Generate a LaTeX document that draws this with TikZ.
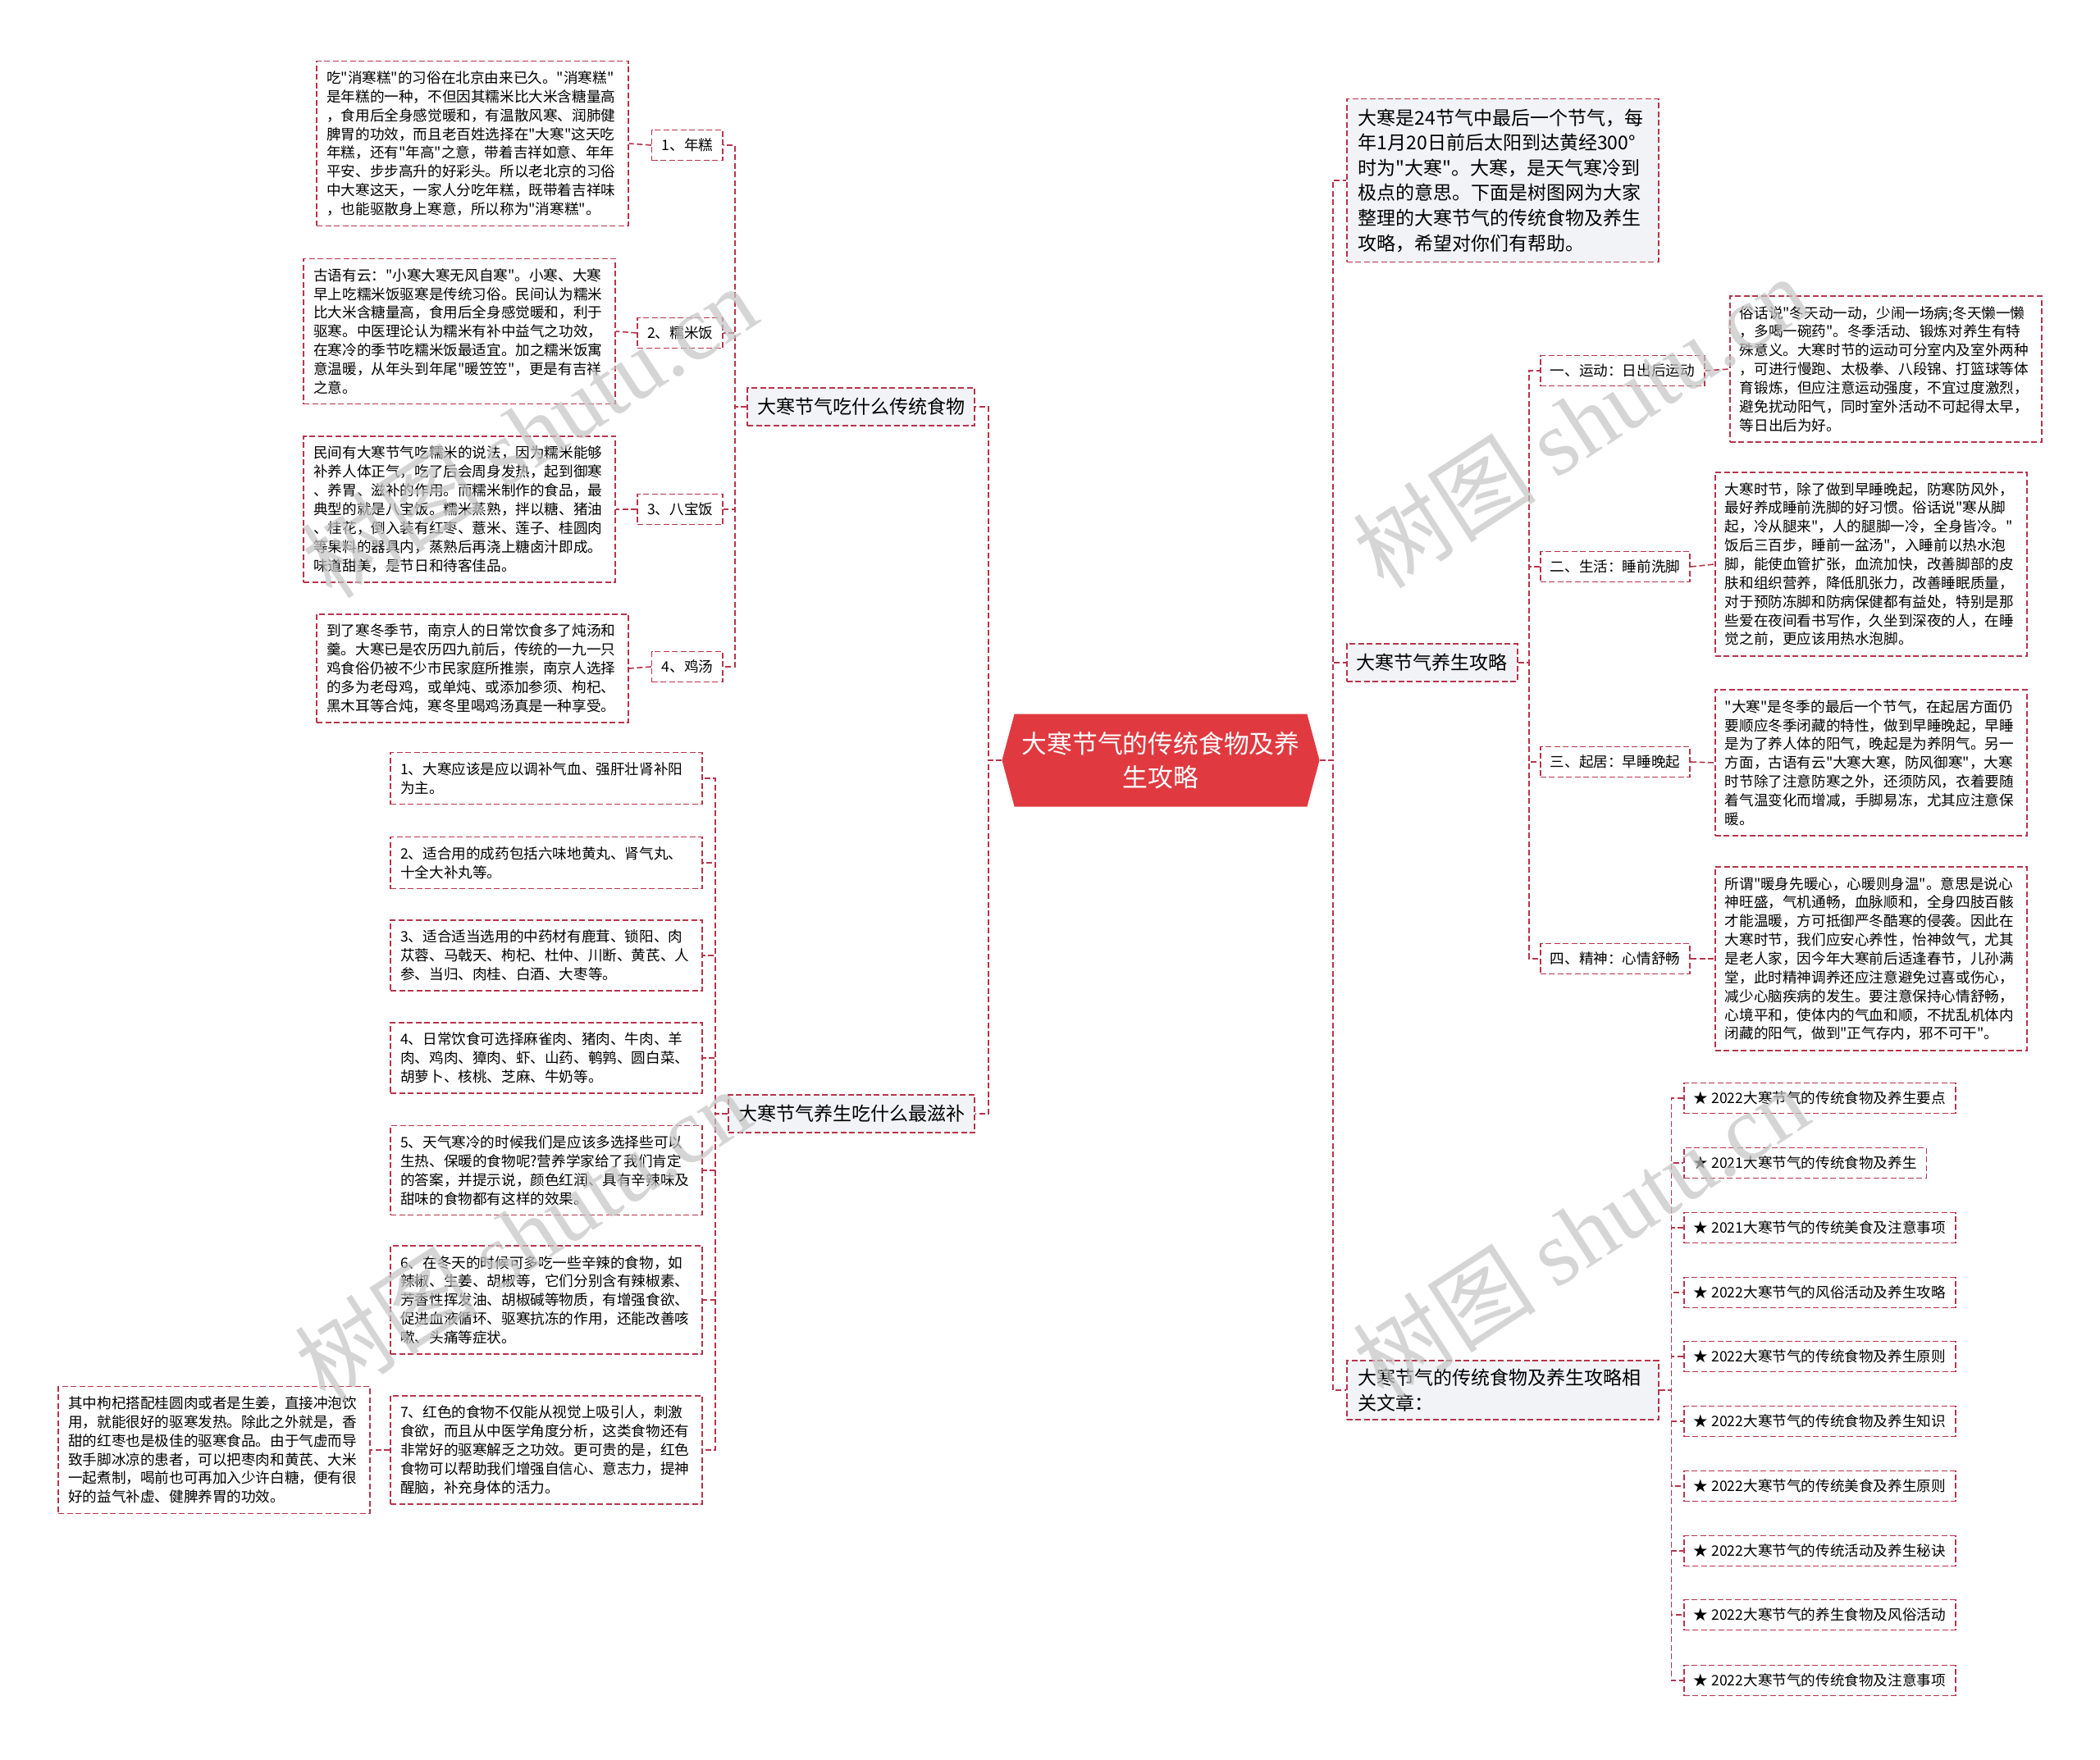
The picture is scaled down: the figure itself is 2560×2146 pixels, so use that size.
\documentclass[tikz,border=0pt]{standalone}
\usepackage{fontspec}
\setmainfont{Noto Sans CJK SC}[Ligatures=TeXOff]
\newfontfamily\wmfont{Liberation Serif}[Ligatures=TeXOff]
\usetikzlibrary{calc,shapes.symbols}
\definecolor{linkred}{HTML}{B8344B}
\definecolor{rootred}{HTML}{E03A40}
\definecolor{branchfill}{HTML}{F1F3F6}
\definecolor{wmgray}{HTML}{C4C4C4}
\newcommand\smalltxt{\fontsize{8.8pt}{11.43pt}\selectfont}
\newcommand\midtxt{\fontsize{11.5pt}{15.3pt}\selectfont}
\newcommand\bigtxt{\fontsize{15.4pt}{20.4pt}\selectfont}

\begin{document}
\begin{tikzpicture}[
  x=0.5pt, y=-0.5pt,
  linkline/.style={draw=linkred, line width=0.8pt, dash pattern=on 3.5pt off 1.75pt},
  rootnode/.style={shape=signal, signal to=east and west, signal pointer angle=150, fill=rootred, text=white, font=\bigtxt, align=center, minimum width=193.5pt, minimum height=56.5pt, inner sep=0pt},
  branchbox/.style={linkline, fill=branchfill, font=\midtxt, inner xsep=6pt, minimum height=23pt},
  tagbox/.style={linkline, fill=white, font=\smalltxt, inner xsep=6pt, minimum height=18.5pt},
  leafbox/.style={linkline, fill=white, font=\smalltxt, text width=178pt, align=left, inner xsep=6pt, inner ysep=6pt},
  wmark/.style={text=wmgray, opacity=0.7, font=\fontsize{56pt}{56pt}\selectfont, rotate=33}
]
\fill[white] (0,0) rectangle (2560,2146);
\useasboundingbox (0,0) rectangle (2560,2146);

% centre
\node[rootnode] (ctr) at (1415,927) {大寒节气的传统食物及养\\生攻略};

% left branches
\node[branchbox, anchor=east] (food) at (1189,496) {大寒节气吃什么传统食物};
\node[branchbox, anchor=east] (tonic) at (1189,1358) {大寒节气养生吃什么最滋补};

\node[tagbox, anchor=east] (nian) at (882,177) {1、年糕};
\node[tagbox, anchor=east] (nuomi) at (882,406) {2、糯米饭};
\node[tagbox, anchor=east] (babao) at (882,621) {3、八宝饭};
\node[tagbox, anchor=east] (jitang) at (882,813) {4、鸡汤};

\node[leafbox, anchor=east] (niantxt) at (767,175) {吃"消寒糕"的习俗在北京由来已久。"消寒糕"\\是年糕的一种，不但因其糯米比大米含糖量高\\，食用后全身感觉暖和，有温散风寒、润肺健\\脾胃的功效，而且老百姓选择在"大寒"这天吃\\年糕，还有"年高"之意，带着吉祥如意、年年\\平安、步步高升的好彩头。所以老北京的习俗\\中大寒这天，一家人分吃年糕，既带着吉祥味\\，也能驱散身上寒意，所以称为"消寒糕"。};
\node[leafbox, anchor=east] (nuomitxt) at (751,404) {古语有云："小寒大寒无风自寒"。小寒、大寒\\早上吃糯米饭驱寒是传统习俗。民间认为糯米\\比大米含糖量高，食用后全身感觉暖和，利于\\驱寒。中医理论认为糯米有补中益气之功效，\\在寒冷的季节吃糯米饭最适宜。加之糯米饭寓\\意温暖，从年头到年尾"暖笠笠"，更是有吉祥\\之意。};
\node[leafbox, anchor=east] (babaotxt) at (751,621) {民间有大寒节气吃糯米的说法，因为糯米能够\\补养人体正气，吃了后会周身发热，起到御寒\\、养胃、滋补的作用。而糯米制作的食品，最\\典型的就是八宝饭。糯米蒸熟，拌以糖、猪油\\、桂花，倒入装有红枣、薏米、莲子、桂圆肉\\等果料的器具内，蒸熟后再浇上糖卤汁即成。\\味道甜美，是节日和待客佳品。};
\node[leafbox, anchor=east] (jitangtxt) at (767,815) {到了寒冬季节，南京人的日常饮食多了炖汤和\\羹。大寒已是农历四九前后，传统的一九一只\\鸡食俗仍被不少市民家庭所推崇，南京人选择\\的多为老母鸡，或单炖、或添加参须、枸杞、\\黑木耳等合炖，寒冬里喝鸡汤真是一种享受。};

\node[leafbox, anchor=east] (tip1) at (857,949) {1、大寒应该是应以调补气血、强肝壮肾补阳\\为主。};
\node[leafbox, anchor=east] (tip2) at (857,1052) {2、适合用的成药包括六味地黄丸、肾气丸、\\十全大补丸等。};
\node[leafbox, anchor=east] (tip3) at (857,1165) {3、适合适当选用的中药材有鹿茸、锁阳、肉\\苁蓉、马戟天、枸杞、杜仲、川断、黄芪、人\\参、当归、肉桂、白酒、大枣等。};
\node[leafbox, anchor=east] (tip4) at (857,1290) {4、日常饮食可选择麻雀肉、猪肉、牛肉、羊\\肉、鸡肉、獐肉、虾、山药、鹌鹑、圆白菜、\\胡萝卜、核桃、芝麻、牛奶等。};
\node[leafbox, anchor=east] (tip5) at (857,1427) {5、天气寒冷的时候我们是应该多选择些可以\\生热、保暖的食物呢?营养学家给了我们肯定\\的答案，并提示说，颜色红润、具有辛辣味及\\甜味的食物都有这样的效果。};
\node[leafbox, anchor=east] (tip6) at (857,1585) {6、在冬天的时候可多吃一些辛辣的食物，如\\辣椒、生姜、胡椒等，它们分别含有辣椒素、\\芳香性挥发油、胡椒碱等物质，有增强食欲、\\促进血液循环、驱寒抗冻的作用，还能改善咳\\嗽、头痛等症状。};
\node[leafbox, anchor=east] (tip7) at (857,1768) {7、红色的食物不仅能从视觉上吸引人，刺激\\食欲，而且从中医学角度分析，这类食物还有\\非常好的驱寒解乏之功效。更可贵的是，红色\\食物可以帮助我们增强自信心、意志力，提神\\醒脑，补充身体的活力。};
\node[leafbox, anchor=east] (gouqi) at (452,1768) {其中枸杞搭配桂圆肉或者是生姜，直接冲泡饮\\用，就能很好的驱寒发热。除此之外就是，香\\甜的红枣也是极佳的驱寒食品。由于气虚而导\\致手脚冰凉的患者，可以把枣肉和黄芪、大米\\一起煮制，喝前也可再加入少许白糖，便有很\\好的益气补虚、健脾养胃的功效。};

% right branches
\node[branchbox, anchor=west, text width=176pt, align=left, inner xsep=7pt, inner ysep=6pt] (intro) at (1641,220) {大寒是24节气中最后一个节气，每\\年1月20日前后太阳到达黄经300°\\时为"大寒"。大寒，是天气寒冷到\\极点的意思。下面是树图网为大家\\整理的大寒节气的传统食物及养生\\攻略，希望对你们有帮助。};
\node[branchbox, anchor=west] (regimen) at (1641,808) {大寒节气养生攻略};
\node[branchbox, anchor=west, text width=176pt, align=left, inner xsep=7pt, inner ysep=5pt] (related) at (1641,1695) {大寒节气的传统食物及养生攻略相\\关文章：};

\node[tagbox, anchor=west] (yd) at (1877,452) {一、运动：日出后运动};
\node[tagbox, anchor=west] (sh) at (1877,691) {二、生活：睡前洗脚};
\node[tagbox, anchor=west] (qj) at (1877,929) {三、起居：早睡晚起};
\node[tagbox, anchor=west] (js) at (1877,1169) {四、精神：心情舒畅};

\node[leafbox, anchor=west] (ydtxt) at (2108,450) {俗话说"冬天动一动，少闹一场病;冬天懒一懒\\，多喝一碗药"。冬季活动、锻炼对养生有特\\殊意义。大寒时节的运动可分室内及室外两种\\，可进行慢跑、太极拳、八段锦、打篮球等体\\育锻炼，但应注意运动强度，不宜过度激烈，\\避免扰动阳气，同时室外活动不可起得太早，\\等日出后为好。};
\node[leafbox, anchor=west] (shtxt) at (2090,688) {大寒时节，除了做到早睡晚起，防寒防风外，\\最好养成睡前洗脚的好习惯。俗话说"寒从脚\\起，冷从腿来"，人的腿脚一冷，全身皆冷。"\\饭后三百步，睡前一盆汤"，入睡前以热水泡\\脚，能使血管扩张，血流加快，改善脚部的皮\\肤和组织营养，降低肌张力，改善睡眠质量，\\对于预防冻脚和防病保健都有益处，特别是那\\些爱在夜间看书写作，久坐到深夜的人，在睡\\觉之前，更应该用热水泡脚。};
\node[leafbox, anchor=west] (qjtxt) at (2090,930) {"大寒"是冬季的最后一个节气，在起居方面仍\\要顺应冬季闭藏的特性，做到早睡晚起，早睡\\是为了养人体的阳气，晚起是为养阴气。另一\\方面，古语有云"大寒大寒，防风御寒"，大寒\\时节除了注意防寒之外，还须防风，衣着要随\\着气温变化而增减，手脚易冻，尤其应注意保\\暖。};
\node[leafbox, anchor=west] (jstxt) at (2090,1169) {所谓"暖身先暖心，心暖则身温"。意思是说心\\神旺盛，气机通畅，血脉顺和，全身四肢百骸\\才能温暖，方可抵御严冬酷寒的侵袭。因此在\\大寒时节，我们应安心养性，怡神敛气，尤其\\是老人家，因今年大寒前后适逢春节，儿孙满\\堂，此时精神调养还应注意避免过喜或伤心，\\减少心脑疾病的发生。要注意保持心情舒畅，\\心境平和，使体内的气血和顺，不扰乱机体内\\闭藏的阳气，做到"正气存内，邪不可干"。};

\node[tagbox, anchor=west] (art1) at (2052,1339) {★ 2022大寒节气的传统食物及养生要点};
\node[tagbox, anchor=west] (art2) at (2052,1418) {★ 2021大寒节气的传统食物及养生};
\node[tagbox, anchor=west] (art3) at (2052,1497) {★ 2021大寒节气的传统美食及注意事项};
\node[tagbox, anchor=west] (art4) at (2052,1576) {★ 2022大寒节气的风俗活动及养生攻略};
\node[tagbox, anchor=west] (art5) at (2052,1654) {★ 2022大寒节气的传统食物及养生原则};
\node[tagbox, anchor=west] (art6) at (2052,1733) {★ 2022大寒节气的传统食物及养生知识};
\node[tagbox, anchor=west] (art7) at (2052,1812) {★ 2022大寒节气的传统美食及养生原则};
\node[tagbox, anchor=west] (art8) at (2052,1891) {★ 2022大寒节气的传统活动及养生秘诀};
\node[tagbox, anchor=west] (art9) at (2052,1969) {★ 2022大寒节气的养生食物及风俗活动};
\node[tagbox, anchor=west] (art10) at (2052,2049) {★ 2022大寒节气的传统食物及注意事项};

% connectors, left side
\draw[linkline] (ctr.west) -| ($(ctr.west)!.5!(food.east)$) |- (food.east);
\draw[linkline] (ctr.west) -| ($(ctr.west)!.5!(tonic.east)$) |- (tonic.east);
\draw[linkline] (food.west) -| ($(food.west)!.5!(nian.east)$) |- (nian.east);
\draw[linkline] (food.west) -| ($(food.west)!.5!(nuomi.east)$) |- (nuomi.east);
\draw[linkline] (food.west) -| ($(food.west)!.5!(babao.east)$) |- (babao.east);
\draw[linkline] (food.west) -| ($(food.west)!.5!(jitang.east)$) |- (jitang.east);
\draw[linkline] (nian.west) -- (niantxt.east);
\draw[linkline] (nuomi.west) -- (nuomitxt.east);
\draw[linkline] (babao.west) -- (babaotxt.east);
\draw[linkline] (jitang.west) -- (jitangtxt.east);
\draw[linkline] (tonic.west) -| ($(tonic.west)!.5!(tip1.east)$) |- (tip1.east);
\draw[linkline] (tonic.west) -| ($(tonic.west)!.5!(tip2.east)$) |- (tip2.east);
\draw[linkline] (tonic.west) -| ($(tonic.west)!.5!(tip3.east)$) |- (tip3.east);
\draw[linkline] (tonic.west) -| ($(tonic.west)!.5!(tip4.east)$) |- (tip4.east);
\draw[linkline] (tonic.west) -| ($(tonic.west)!.5!(tip5.east)$) |- (tip5.east);
\draw[linkline] (tonic.west) -| ($(tonic.west)!.5!(tip6.east)$) |- (tip6.east);
\draw[linkline] (tonic.west) -| ($(tonic.west)!.5!(tip7.east)$) |- (tip7.east);
\draw[linkline] (tip7.west) -- (gouqi.east);

% connectors, right side
\draw[linkline] (ctr.east) -| ($(ctr.east)!.5!(intro.west)$) |- (intro.west);
\draw[linkline] (ctr.east) -| ($(ctr.east)!.5!(regimen.west)$) |- (regimen.west);
\draw[linkline] (ctr.east) -| ($(ctr.east)!.5!(related.west)$) |- (related.west);
\draw[linkline] (regimen.east) -| ($(regimen.east)!.5!(yd.west)$) |- (yd.west);
\draw[linkline] (regimen.east) -| ($(regimen.east)!.5!(sh.west)$) |- (sh.west);
\draw[linkline] (regimen.east) -| ($(regimen.east)!.5!(qj.west)$) |- (qj.west);
\draw[linkline] (regimen.east) -| ($(regimen.east)!.5!(js.west)$) |- (js.west);
\draw[linkline] (yd.east) -- (ydtxt.west);
\draw[linkline] (sh.east) -- (shtxt.west);
\draw[linkline] (qj.east) -- (qjtxt.west);
\draw[linkline] (js.east) -- (jstxt.west);
\draw[linkline] (related.east) -| ($(related.east)!.5!(art1.west)$) |- (art1.west);
\draw[linkline] (related.east) -| ($(related.east)!.5!(art2.west)$) |- (art2.west);
\draw[linkline] (related.east) -| ($(related.east)!.5!(art3.west)$) |- (art3.west);
\draw[linkline] (related.east) -| ($(related.east)!.5!(art4.west)$) |- (art4.west);
\draw[linkline] (related.east) -| ($(related.east)!.5!(art5.west)$) |- (art5.west);
\draw[linkline] (related.east) -| ($(related.east)!.5!(art6.west)$) |- (art6.west);
\draw[linkline] (related.east) -| ($(related.east)!.5!(art7.west)$) |- (art7.west);
\draw[linkline] (related.east) -| ($(related.east)!.5!(art8.west)$) |- (art8.west);
\draw[linkline] (related.east) -| ($(related.east)!.5!(art9.west)$) |- (art9.west);
\draw[linkline] (related.east) -| ($(related.east)!.5!(art10.west)$) |- (art10.west);

% watermarks
\node[wmark] (wm1) at (645,526) {树图 {\wmfont shutu.cn}};
\node[wmark] (wm2) at (637,1505) {树图 {\wmfont shutu.cn}};
\node[wmark] (wm3) at (1927,514) {树图 {\wmfont shutu.cn}};
\node[wmark] (wm4) at (1927,1502) {树图 {\wmfont shutu.cn}};
\end{tikzpicture}
\end{document}
